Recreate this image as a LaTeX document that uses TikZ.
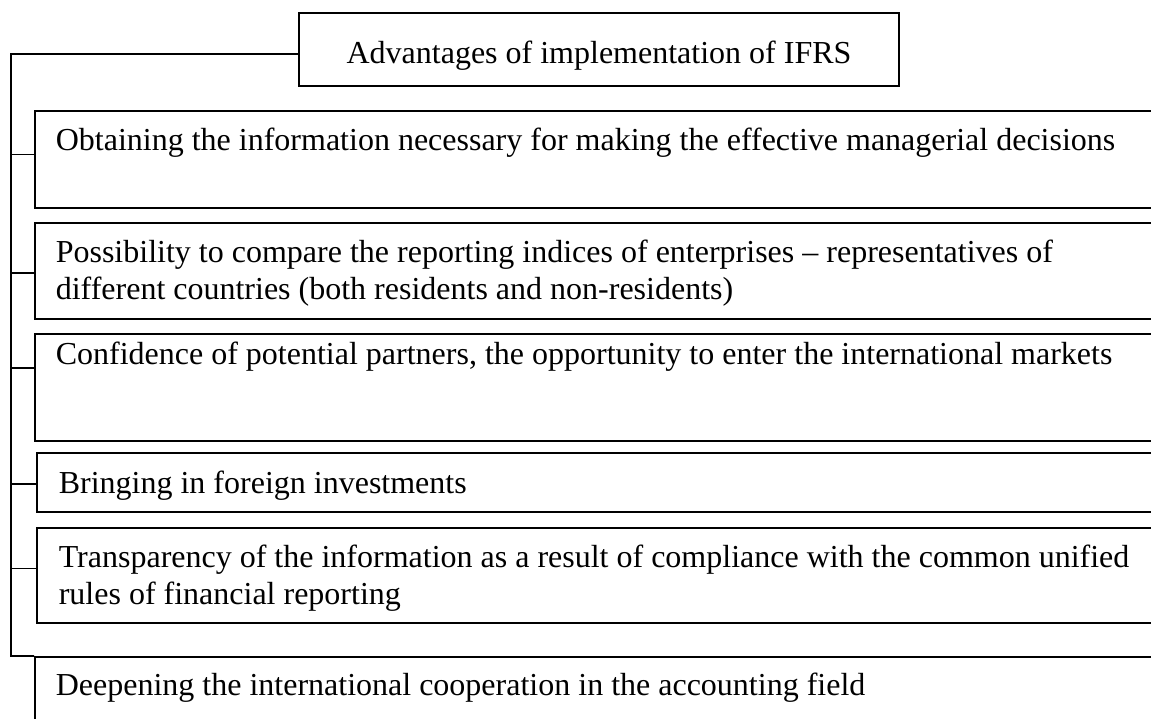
\documentclass[tikz,border=0pt]{standalone}
\usepackage{fontspec}
\setmainfont{Liberation Serif}
\usetikzlibrary{calc}

\begin{document}
\begin{tikzpicture}[x=1pt,y=-1pt,line width=1.6pt,
    box/.style={draw,anchor=north west,inner sep=0,minimum width=1200pt},
    txt/.style={anchor=base west,align=left,inner sep=0,font=\fontsize{32}{37}\selectfont}]
    \useasboundingbox (0,0) rectangle (1151,718);
    \clip (0,0) rectangle (1151,718);
    \node[draw,inner sep=0,minimum width=600pt,minimum height=73pt] (title) at (599,49.5) {};
    \node[box,minimum height=97pt] (b1) at (34,110) {};
    \node[box,minimum height=96pt] (b2) at (34,222) {};
    \node[box,minimum height=107pt] (b3) at (34,333) {};
    \node[box,minimum height=59pt] (b4) at (36,452) {};
    \node[box,minimum height=95pt] (b5) at (36,527) {};
    \node[box,minimum height=120pt] (b6) at (34,656) {};
    \node[txt,anchor=base] (tt) at (599,63) {Advantages of implementation of IFRS};
    \node[txt] (t1) at (55,150) {Obtaining the information necessary for making the effective managerial decisions};
    \node[txt] (t2) at (55,299) {Possibility to compare the reporting indices of enterprises -- representatives of\\different countries (both residents and non-residents)};
    \node[txt] (t3) at (55,364) {Confidence of potential partners, the opportunity to enter the international markets};
    \node[txt] (t4) at (58,493) {Bringing in foreign investments};
    \node[txt] (t5) at (58,604) {Transparency of the information as a result of compliance with the common unified\\rules of financial reporting};
    \node[txt] (t6) at (55,695) {Deepening the international cooperation in the accounting field};
    \coordinate (trunk) at (11,54);
    \draw ($(title.north west)!0.56!(title.south west)$) -- (trunk) -- (trunk |- b6.north) -- (b6.north west);
    \foreach \b/\f in {b1/0.45,b2/0.52,b3/0.32,b4/0.53,b5/0.43}
        \draw (trunk |- {$(\b.north west)!\f!(\b.south west)$}) -- ($(\b.north west)!\f!(\b.south west)$);
\end{tikzpicture}
\end{document}
